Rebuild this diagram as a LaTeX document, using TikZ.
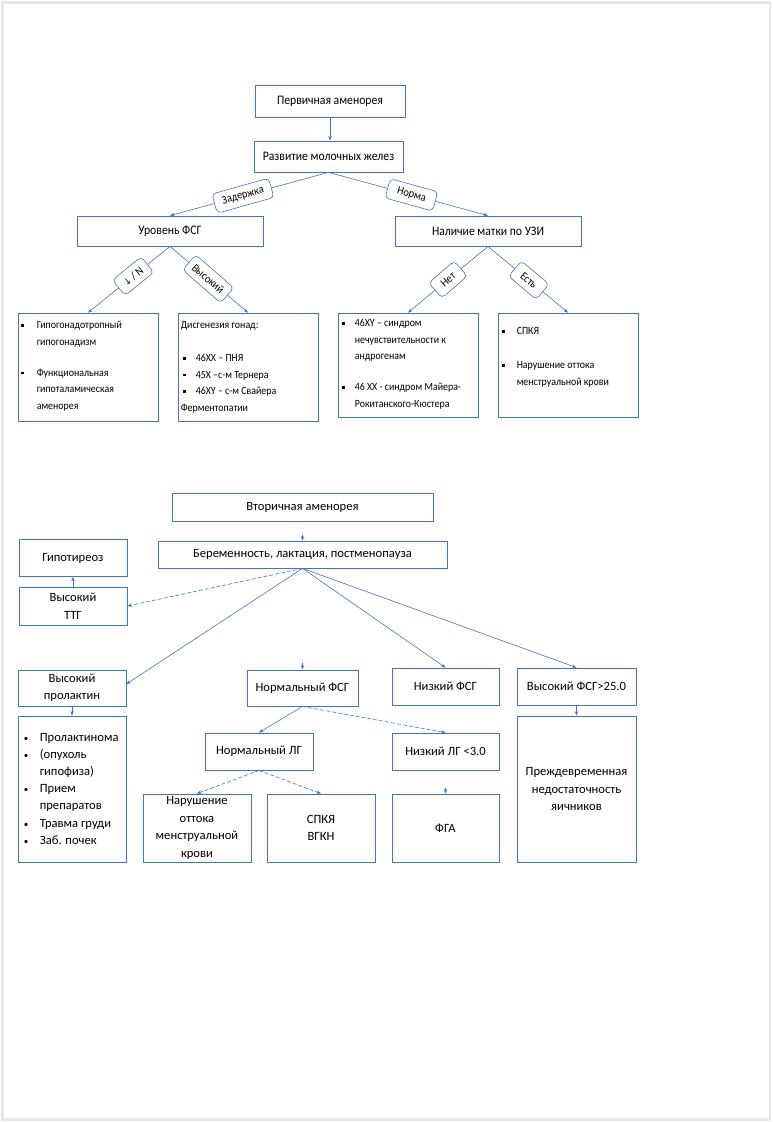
\documentclass[tikz,border=0pt]{standalone}
\usepackage{fontspec}
\setmainfont{Carlito}
\newfontfamily\condfont[FakeStretch=0.9]{Carlito}
\newfontfamily\dejafont{DejaVu Sans}
\usetikzlibrary{arrows.meta,calc}
\definecolor{bl}{HTML}{4472C4}
\definecolor{fr}{HTML}{E8E8E8}
\newcommand{\sqb}[1]{\makebox[#1][l]{\rule[1.8pt]{2.8pt}{2.8pt}}}
\newcommand{\rbul}{\makebox[16pt][l]{\fontsize{9}{10}\selectfont•}}
\begin{document}
\begin{tikzpicture}[x=1pt,y=-1pt,
  box/.style={draw=bl, line width=0.8pt, inner sep=0pt, align=center, text=black},
  tbox/.style={box, font=\condfont\fontsize{13}{15}\selectfont},
  bbox/.style={box, font=\fontsize{12.6}{17.5}\selectfont},
  arr/.style={draw=bl, line width=0.6pt, -{Stealth[length=4.5pt,width=3.5pt]}},
  dsh/.style={arr, dash pattern=on 4pt off 2pt},
  elab/.style={draw=bl, line width=0.6pt, fill=white, rounded corners=4pt, text=black,
    font=\condfont\fontsize{11.5}{13}\selectfont, inner xsep=8pt, inner ysep=3pt, minimum height=20pt},
  lst/.style={anchor=north west, inner sep=0pt, align=left, text=black, font=\condfont\fontsize{11}{16.5}\selectfont},
  blst/.style={anchor=north west, inner sep=0pt, align=left, text=black, font=\fontsize{12.6}{17.2}\selectfont},
]
\useasboundingbox (0,0) rectangle (773,1122);
\draw[fr, line width=2.5pt] (2.5,2.5) rectangle (770,1119.5);

% ---------- top part ----------
\node[tbox, minimum width=150, minimum height=32] (p1) at (330,101) {Первичная аменорея};
\node[tbox, minimum width=149, minimum height=31] (p2) at (328.5,156.5) {Развитие молочных желез};
\node[tbox, minimum width=186, minimum height=30] (p3) at (170,231) {Уровень ФСГ};
\node[tbox, minimum width=186, minimum height=30] (p4) at (488,231) {Наличие матки по УЗИ};

\node[box, minimum width=140, minimum height=108] (q1) at (88,367) {};
\node[box, minimum width=140, minimum height=108] (q2) at (248,367) {};
\node[box, minimum width=140, minimum height=104] (q3) at (408,365) {};
\node[box, minimum width=140, minimum height=104] (q4) at (568,365) {};

\draw[arr] (p1.south) -- (p1.south |- p2.north);
\draw[arr] (p2.south) -- (p3.north) node[elab, pos=0.54, rotate=15.6] (l1) {Задержка};
\draw[arr] (p2.south) -- (p4.north) node[elab, pos=0.52, rotate=-15.5, inner xsep=10pt] (l2) {Норма};
\draw[arr] (p3.south) -- (q1.north) node[elab, pos=0.45, rotate=39, inner xsep=7pt] (l3) {{\dejafont\fontsize{9}{10}\selectfont ↓} / N};
\draw[arr] (p3.south) -- (q2.north) node[elab, pos=0.49, rotate=-41, inner xsep=6pt] (l4) {Высокий};
\draw[arr] (p4.south) -- (q3.north) node[elab, pos=0.5, rotate=41, inner xsep=9pt] (l5) {Нет};
\draw[arr] (p4.south) -- (q4.north) node[elab, pos=0.51, rotate=-40, inner xsep=9pt] (l6) {Есть};

\node[lst] (t1) at ($(q1.north west)+(3,4.25)$) {\strut\sqb{16pt}Гипогонадотропный\\
  \hspace*{16pt}гипогонадизм\\[14.5pt]
  \sqb{16pt}Функциональная\\
  \hspace*{16pt}гипоталамическая\\
  \hspace*{16pt}аменорея};
\node[lst] (t2) at ($(q2.north west)+(3,4.25)$) {\strut Дисгенезия гонад:\\[16.5pt]
  \hspace*{2pt}\sqb{13pt}46XX – ПНЯ\\
  \hspace*{2pt}\sqb{13pt}45X –с-м Тернера\\
  \hspace*{2pt}\sqb{13pt}46XY – с-м Свайера\\
  Ферментопатии};
\node[lst] (t3) at ($(q3.north west)+(4,2.25)$) {\strut\sqb{13pt}46XY – синдром\\
  \hspace*{13pt}нечувствительности к\\
  \hspace*{13pt}андрогенам\\[14.5pt]
  \sqb{13pt}46 XX - синдром Майера-\\
  \hspace*{13pt}Рокитанского-Кюстера};
\node[lst] (t4) at ($(q4.north west)+(4,10.25)$) {\strut\sqb{15pt}СПКЯ\\[17.5pt]
  \sqb{15pt}Нарушение оттока\\
  \hspace*{15pt}менструальной крови};

% ---------- bottom part ----------
\node[bbox, minimum width=261, minimum height=28] (s1) at (302.5,507) {Вторичная аменорея};
\node[bbox, minimum width=289, minimum height=27] (s2) at (302.5,554.5) {Беременность, лактация, постменопауза};
\node[bbox, minimum width=108, minimum height=37] (g1) at (73,558) {Гипотиреоз};
\node[bbox, minimum width=108, minimum height=38] (g2) at (73,606) {Высокий\\ТТГ};
\node[bbox, minimum width=108, minimum height=36] (h1) at (72,688) {Высокий\\пролактин};
\node[box, minimum width=108, minimum height=146] (h2) at (72,789) {};
\node[bbox, minimum width=111, minimum height=36] (n1) at (302.5,688) {Нормальный ФСГ};
\node[bbox, minimum width=107, minimum height=37] (n2) at (445.5,686.5) {Низкий ФСГ};
\node[bbox, minimum width=119, minimum height=37] (n3) at (576.5,686.5) {Высокий ФСГ>25.0};
\node[bbox, minimum width=108, minimum height=37] (m1) at (259,751.5) {Нормальный ЛГ};
\node[bbox, minimum width=107, minimum height=37] (m2) at (445.5,751.5) {Низкий ЛГ <3.0};
\node[bbox, minimum width=108, minimum height=68] (k1) at (197,828) {Нарушение\\оттока\\менструальной\\крови};
\node[bbox, minimum width=108, minimum height=68] (k2) at (321,828) {СПКЯ\\ВГКН};
\node[bbox, minimum width=107, minimum height=68] (k3) at (445.5,828) {ФГА};
\node[bbox, minimum width=119, minimum height=146] (k4) at (576.5,789) {Преждевременная\\недостаточность\\яичников};

\node[blst] (t5) at ($(h2.north west)+(6,13.3)$) {\strut\rbul Пролактинома\\
  \rbul(опухоль\\
  \hspace*{16pt}гипофиза)\\
  \rbul Прием\\
  \hspace*{16pt}препаратов\\
  \rbul Травма груди\\
  \rbul Заб. почек};

\coordinate (c1) at (302.5,535);
\coordinate (c2) at (302.5,663);
\coordinate (c3) at (445.5,788);
\draw[arr] (c1) -- (s2.north);
\draw[arr] (g2.north) -- (g1.south);
\draw[dsh] (s2.south) -- (g2.east);
\draw[arr] (s2.south) -- ([yshift=4pt]h1.east);
\draw[arr] (s2.south) -- (n2.north);
\draw[arr] (s2.south) -- (n3.north);
\draw[arr] (c2) -- (n1.north);
\draw[arr] (h1.south) -- (h2.north);
\draw[arr] (n1.south) -- (m1.north);
\draw[dsh] (n1.south) -- (m2.north);
\draw[dsh] (m1.south) -- (k1.north);
\draw[dsh] (m1.south) -- (k2.north);
\draw[arr] (c3) -- (k3.north);
\draw[arr] (n3.south) -- (k4.north);
\end{tikzpicture}
\end{document}
